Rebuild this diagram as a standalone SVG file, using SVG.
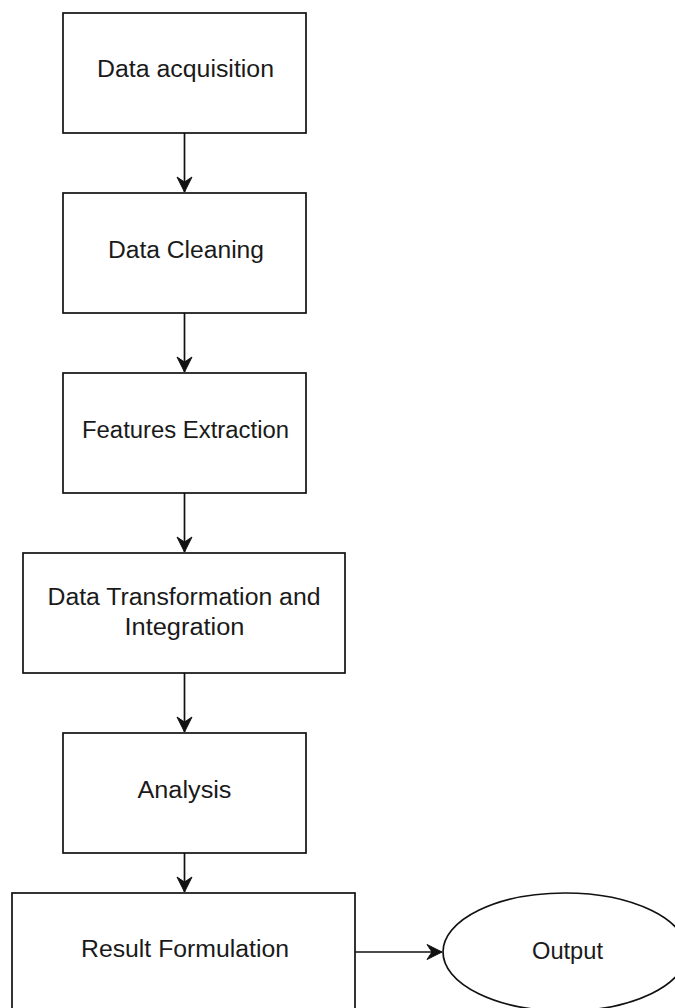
<svg xmlns="http://www.w3.org/2000/svg" width="675" height="1008" viewBox="0 0 675 1008">
  <style>
    .box { fill: #ffffff; stroke: #111111; stroke-width: 1.7; }
    .lbl { font-family: "Liberation Sans", Arial, sans-serif; font-size: 23px; fill: #1a1a1a; text-anchor: middle; }
    .edge { stroke: #111111; stroke-width: 1.7; fill: none; }
  </style>
  <defs>
    <marker id="arrow" markerUnits="userSpaceOnUse" markerWidth="20" markerHeight="20" viewBox="-17 -10 20 20" refX="0" refY="0" orient="auto">
      <path d="M0,0 L-15,-7.5 L-10,0 L-15,7.5 Z" fill="#111111" stroke="#111111" stroke-width="1" stroke-linejoin="miter"/>
    </marker>
  </defs>
  <rect x="0" y="0" width="675" height="1008" fill="#ffffff"/>

  <g id="connectors">
    <line class="edge" x1="184.5" y1="133" x2="184.5" y2="192" marker-end="url(#arrow)"/>
    <line class="edge" x1="184.5" y1="313" x2="184.5" y2="372" marker-end="url(#arrow)"/>
    <line class="edge" x1="184.5" y1="493" x2="184.5" y2="552" marker-end="url(#arrow)"/>
    <line class="edge" x1="184.5" y1="673" x2="184.5" y2="732" marker-end="url(#arrow)"/>
    <line class="edge" x1="184.5" y1="853" x2="184.5" y2="892" marker-end="url(#arrow)"/>
    <line class="edge" x1="355" y1="952" x2="442" y2="952" marker-end="url(#arrow)"/>
  </g>

  <g id="node-acquisition">
    <rect class="box" x="63" y="13" width="243" height="120"/>
    <text class="lbl" x="185.5" y="77" textLength="177" lengthAdjust="spacingAndGlyphs">Data acquisition</text>
  </g>
  <g id="node-cleaning">
    <rect class="box" x="63" y="193" width="243" height="120"/>
    <text class="lbl" x="186" y="258" textLength="156" lengthAdjust="spacingAndGlyphs">Data Cleaning</text>
  </g>
  <g id="node-features">
    <rect class="box" x="63" y="373" width="243" height="120"/>
    <text class="lbl" x="185.5" y="438" textLength="207" lengthAdjust="spacingAndGlyphs">Features Extraction</text>
  </g>
  <g id="node-transformation">
    <rect class="box" x="23" y="553" width="322" height="120"/>
    <text class="lbl" x="184" y="605" textLength="273" lengthAdjust="spacingAndGlyphs">Data Transformation and</text>
    <text class="lbl" x="184.5" y="635" textLength="120" lengthAdjust="spacingAndGlyphs">Integration</text>
  </g>
  <g id="node-analysis">
    <rect class="box" x="63" y="733" width="243" height="120"/>
    <text class="lbl" x="184.5" y="798" textLength="94" lengthAdjust="spacingAndGlyphs">Analysis</text>
  </g>
  <g id="node-result">
    <rect class="box" x="12" y="893" width="343" height="120"/>
    <text class="lbl" x="185" y="957" textLength="208" lengthAdjust="spacingAndGlyphs">Result Formulation</text>
  </g>
  <g id="node-output">
    <ellipse class="box" cx="565" cy="952" rx="122" ry="59"/>
    <text class="lbl" x="567.5" y="959" textLength="71" lengthAdjust="spacingAndGlyphs">Output</text>
  </g>
</svg>
